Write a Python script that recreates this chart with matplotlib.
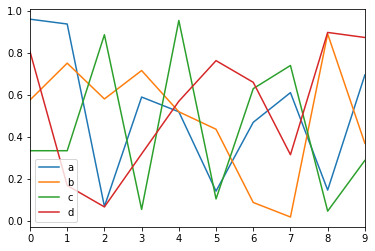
import pandas as pd
import matplotlib
matplotlib.use("Agg")
import matplotlib.pyplot as plt

idx = list(range(10))
a = [0.96, 0.937, 0.07, 0.59, 0.52, 0.143, 0.47, 0.611, 0.148, 0.695]
b = [0.576, 0.751, 0.581, 0.716, 0.52, 0.437, 0.089, 0.02, 0.89, 0.37]
c = [0.335, 0.335, 0.886, 0.056, 0.954, 0.106, 0.63, 0.74, 0.048, 0.289]
d = [0.806, 0.17, 0.068, 0.32, 0.57, 0.763, 0.66, 0.316, 0.897, 0.873]

df = pd.DataFrame({"a": a, "b": b, "c": c, "d": d}, index=idx)

fig, ax = plt.subplots(figsize=(375 / 72, 251 / 72), dpi=72)
df.plot(ax=ax)
ax.set_xticks(idx)
ax.set_xlim(idx[0], idx[-1])
ax.legend(loc="lower left")
fig.subplots_adjust(left=0.08, right=0.973, bottom=0.096, top=0.963)
fig.savefig("out.png", dpi=72)
